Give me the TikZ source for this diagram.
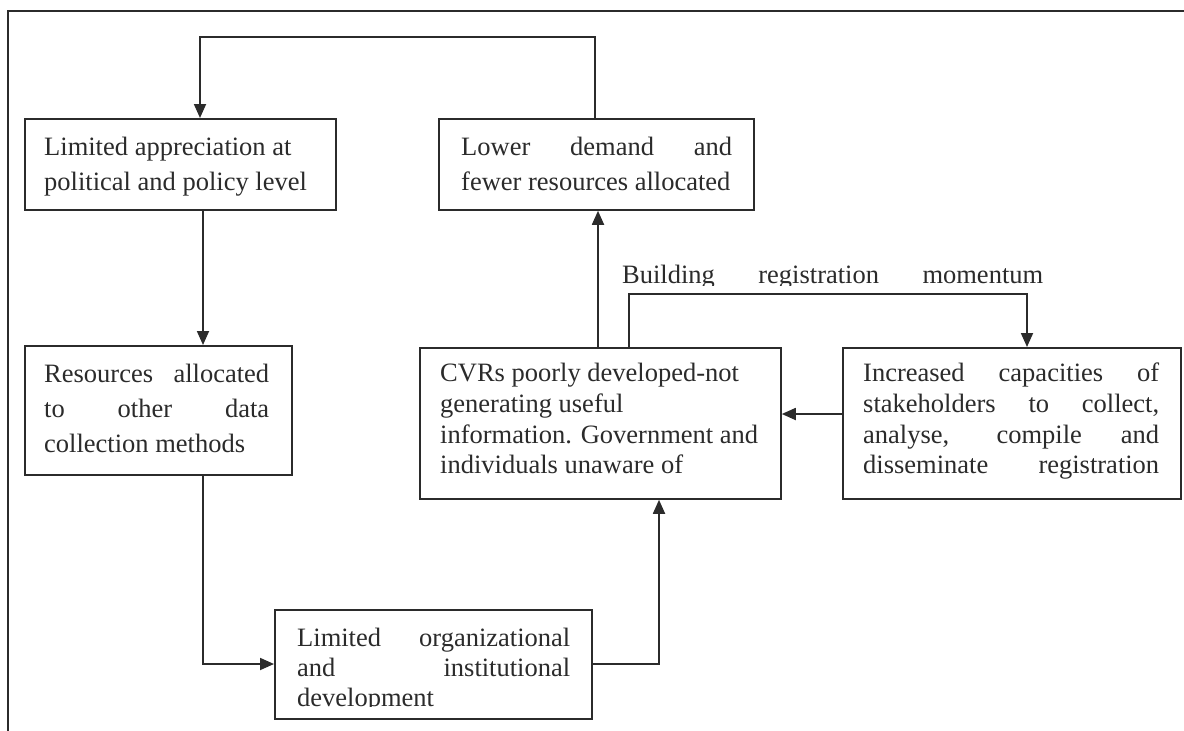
\documentclass[tikz,border=0pt]{standalone}
\usepackage{fontspec}
\setmainfont{Liberation Serif}
\usetikzlibrary{arrows.meta}
\definecolor{ink}{HTML}{2B2B2B}
\tikzset{
  boxnode/.style={draw=ink, line width=1.8pt, inner sep=0pt, anchor=north west},
  txt/.style={inner sep=0pt, anchor=base west, text=ink, font=\fontsize{26.5}{30}\selectfont},
  arr/.style={draw=ink, line width=1.8pt, -{Triangle[length=14pt,width=12pt]}},
  plain/.style={draw=ink, line width=1.8pt}
}
\begin{document}
\begin{tikzpicture}[x=1pt,y=-1pt]
\useasboundingbox[fill=white] (0,0) rectangle (1184,731);
% outer frame (top and left only)
\draw[plain] (8,731) -- (8,11) -- (1184,11);

% boxes
\node[boxnode, minimum width=311pt, minimum height=91pt]  (b1) at (24,118) {};
\node[boxnode, minimum width=315pt, minimum height=91pt]  (b2) at (438,118) {};
\node[boxnode, minimum width=267pt, minimum height=129pt] (b3) at (24,345) {};
\node[boxnode, minimum width=361pt, minimum height=151pt] (b4) at (419,347) {};
\node[boxnode, minimum width=338pt, minimum height=151pt] (b6) at (842,347) {};
\node[boxnode, minimum width=317pt, minimum height=109pt] (b5) at (274,609) {};

% box texts
\node[txt] (t1a) at (44,155) {Limited appreciation at};
\node[txt] (t1b) at (44,190.5) {political and policy level};

\node[txt] (t2a) at (461,155) {\makebox[271pt][s]{Lower demand and}};
\node[txt] (t2b) at (461,190.5) {fewer resources allocated};

\node[txt] (t3a) at (44,382) {\makebox[225pt][s]{Resources allocated}};
\node[txt] (t3b) at (44,417) {\makebox[225pt][s]{to other data}};
\node[txt] (t3c) at (44,452) {collection methods};

\node[txt] (t4a) at (440,381) {CVRs poorly developed-not};
\node[txt] (t4b) at (440,412) {generating useful};
\node[txt] (t4c) at (440,443) {information. Government and};
\node[txt] (t4d) at (440,473) {individuals unaware of};

\node[txt] (t6a) at (863,381) {\makebox[296pt][s]{Increased capacities of}};
\node[txt] (t6b) at (863,412) {\makebox[296pt][s]{stakeholders to collect,}};
\node[txt] (t6c) at (863,443) {\makebox[296pt][s]{analyse, compile and}};
\node[txt] (t6d) at (863,473) {\makebox[296pt][s]{disseminate registration}};

\node[txt] (t5a) at (297,646) {\makebox[273pt][s]{Limited organizational}};
\node[txt] (t5b) at (297,676) {\makebox[273pt][s]{and institutional}};
\begin{scope}
  \clip (280,680) rectangle (590,706.5);
  \node[txt] (t5c) at (297,706) {development};
\end{scope}

\begin{scope}
  \clip (600,250) rectangle (1100,285.5);
  \node[txt] (lab) at (622,283) {\makebox[421pt][s]{Building registration momentum}};
\end{scope}

% bend points
\coordinate (k0) at (595,0);
\coordinate (k1) at (200,37);
\coordinate (k2) at (203,0);
\coordinate (k3) at (203,664);
\coordinate (k4) at (659,664);
\coordinate (k5) at (598,0);
\coordinate (k6) at (629,294);
\coordinate (k7) at (1027,294);
\coordinate (k8) at (0,414);

% connectors
\draw[arr] (k0 |- b2.north) |- (k1) -- (k1 |- b1.north);
\draw[arr] (k2 |- b1.south) -- (k2 |- b3.north);
\draw[arr] (k2 |- b3.south) -- (k3) -- (k3 -| b5.west);
\draw[arr] (k4 -| b5.east) -- (k4) -- (k4 |- b4.south);
\draw[arr] (k5 |- b4.north) -- (k5 |- b2.south);
\draw[arr] (k6 |- b4.north) -- (k6) -- (k7) -- (k7 |- b6.north);
\draw[arr] (k8 -| b6.west) -- (k8 -| b4.east);
\end{tikzpicture}
\end{document}
